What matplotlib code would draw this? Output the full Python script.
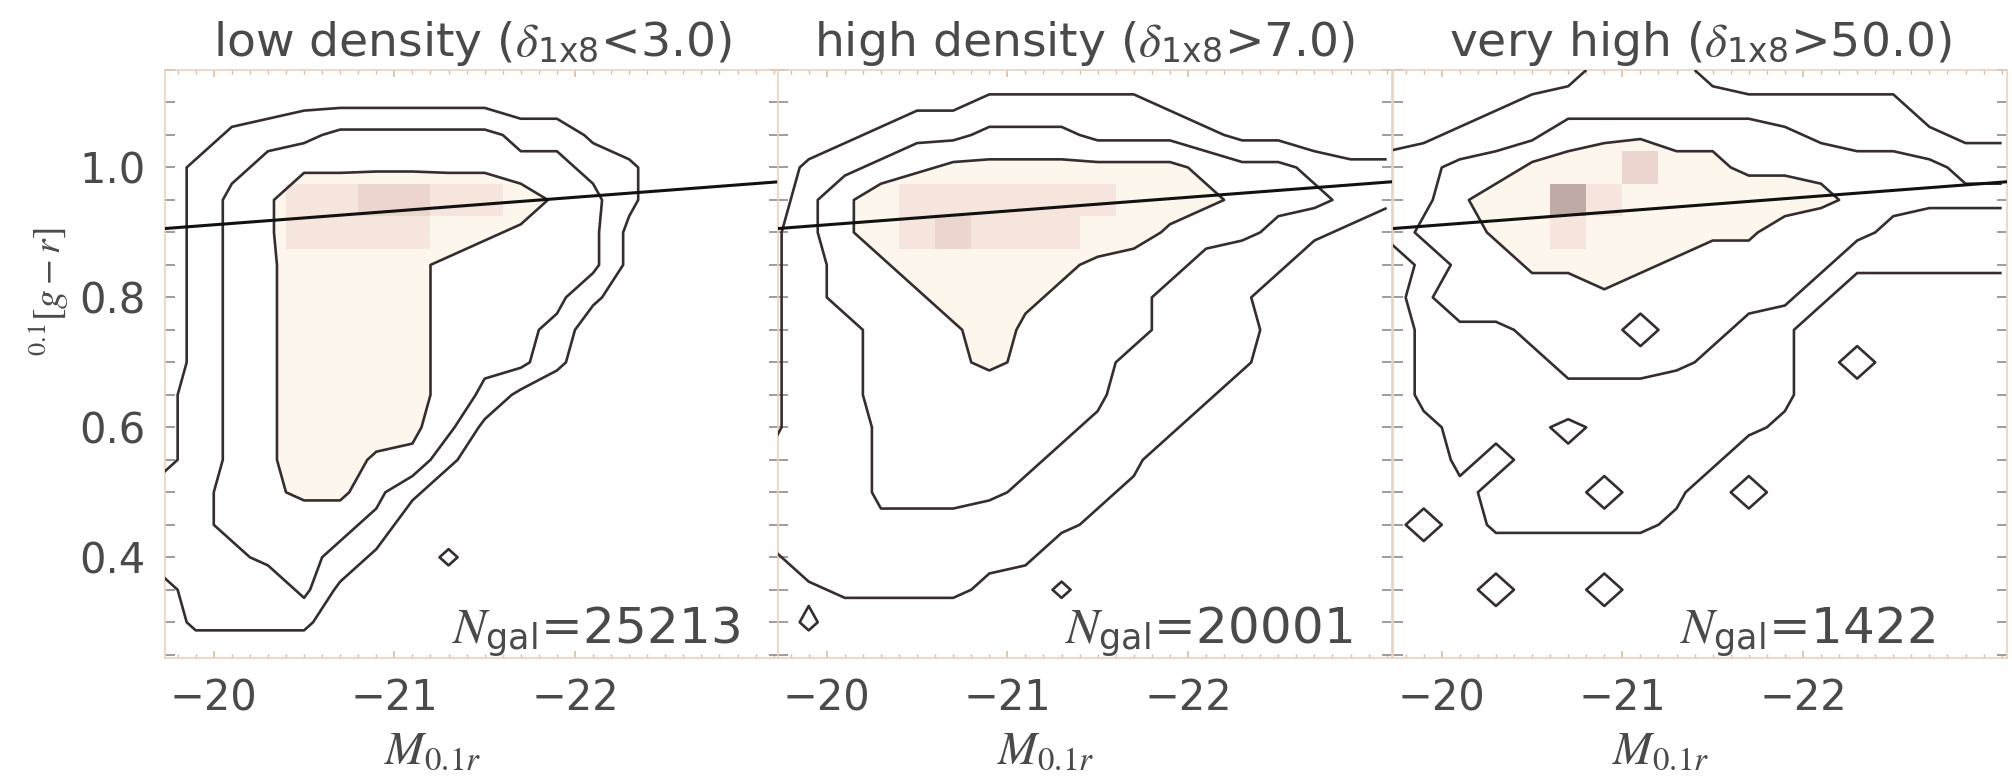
import matplotlib
matplotlib.use("Agg")
import matplotlib.pyplot as plt
import numpy as np
from matplotlib.colors import ListedColormap, BoundaryNorm
from matplotlib.ticker import MultipleLocator, FixedLocator

plt.rcParams['font.family'] = ['DejaVu Sans']
plt.rcParams['mathtext.fontset'] = 'stix'

# bin centres of the colour-magnitude grid
mag_bins = [-19.7, -19.9, -20.1, -20.3, -20.5, -20.7, -20.9, -21.1, -21.3,
            -21.5, -21.7, -21.9, -22.1, -22.3, -22.5, -22.7, -22.9, -23.1]
color_bins = [1.15, 1.10, 1.05, 1.00, 0.95, 0.90, 0.85, 0.80, 0.75, 0.70,
              0.65, 0.60, 0.55, 0.50, 0.45, 0.40, 0.35, 0.30, 0.25]

# density class per bin (top row = 1.15), hex digits
# 0-1 outside, 2-3 outer ring, 4-5 middle ring, 6+ inner, 8-a peak pixels
low_density = [
    "000000000000000000",
    "000011111100000000",
    "002334444433100000",
    "023455555544320000",
    "024588998875420000",
    "024588887654410000",
    "024577765444410000",
    "024577765444200000",
    "024577765443000000",
    "024577765442000000",
    "124577765310000000",
    "124577764100000000",
    "124577552000000000",
    "234566420000000000",
    "234444300000000000",
    "223443102000000000",
    "122241000000000000",
    "022220000000000000",
    "000000000000000000",
]
high_density = [
    "000000000000000000",
    "000011222221000000",
    "001233444333211000",
    "023456666666544322",
    "035788888877654432",
    "135789888775443210",
    "134577776544322000",
    "134457765443220000",
    "133445754443221000",
    "133445654433220000",
    "133444444422200000",
    "132444444322000000",
    "232444443220000000",
    "332444432210000000",
    "333333222100000000",
    "133222220000000000",
    "012222102000000000",
    "020000000000000000",
    "000000000000000000",
]
very_high = [
    "000001222100000000",
    "000122222222222000",
    "112335555554333211",
    "234466796655544433",
    "23577a877777654444",
    "244678777664443222",
    "024466765444422222",
    "035544544444200000",
    "023344434432000000",
    "022234444322030000",
    "022223332222000000",
    "012221222221000000",
    "002122222200000000",
    "001222122030000000",
    "030222221000000000",
    "000000000000000000",
    "000300300000000000",
    "000000000000000000",
    "000000000000000000",
]

titles = [r'low density ($\delta_{\mathregular{1x8}}$<3.0)',
          r'high density ($\delta_{\mathregular{1x8}}$>7.0)',
          r'very high ($\delta_{\mathregular{1x8}}$>50.0)']
n_gal = [25213, 20001, 1422]

# red sequence fit line (end points)
rs_mag = [-19.73, -23.13]
rs_color = [0.906, 0.978]

grids = [low_density, high_density, very_high]

fig = plt.figure(figsize=(20.12, 7.77), dpi=100)
lefts = [165 / 2012, 778 / 2012, 1393 / 2012]
line_col = '#362e2e'
frame_col = '#ebd2bb'
text_col = '#4a4a4a'

shade_cmap = ListedColormap(['#f6e5dd', '#ecd5cf', '#bfaaa6'])
shade_norm = BoundaryNorm([7.5, 8.5, 9.5, 10.5], 3)

for i, rows in enumerate(grids):
    ax = fig.add_axes([lefts[i], 0.1532, 0.3052, 0.7567])
    z = np.array([[int(ch, 16) for ch in r] for r in rows], dtype=float)

    ax.contourf(mag_bins, color_bins, z, levels=[5.5, 16], colors=['#fdf6ec'], zorder=1)
    peak = np.ma.masked_less(z, 8)
    ax.pcolormesh(mag_bins, color_bins, peak, cmap=shade_cmap, norm=shade_norm,
                  shading='nearest', zorder=2)
    ax.contour(mag_bins, color_bins, z, levels=[1.5, 3.5, 5.5],
               colors=line_col, linewidths=1.9, zorder=3)
    ax.plot(rs_mag, rs_color, color='#111111', lw=2.2, zorder=4)

    ax.set_xlim(-19.73, -23.13)
    ax.set_ylim(0.245, 1.15)

    for sp in ax.spines.values():
        sp.set_color(frame_col)
        sp.set_linewidth(1.2)

    ax.xaxis.set_major_locator(FixedLocator([-20, -21, -22]))
    ax.xaxis.set_minor_locator(MultipleLocator(0.1))
    ax.yaxis.set_major_locator(FixedLocator([0.4, 0.6, 0.8, 1.0]))
    ax.yaxis.set_minor_locator(MultipleLocator(0.05))
    ax.tick_params(axis='x', which='both', direction='in', top=True, bottom=True,
                   color='#d9bca2', labelsize=30, labelcolor=text_col, pad=14)
    ax.tick_params(axis='x', which='major', length=5, width=1.2)
    ax.tick_params(axis='x', which='minor', length=3, width=1)
    ax.tick_params(axis='y', which='both', direction='in', left=True, right=True,
                   length=7, width=1.2, color='#8c8c8c', labelsize=30,
                   labelcolor=text_col, pad=14)
    if i > 0:
        ax.tick_params(axis='y', labelleft=False)
    ax.set_xticklabels(['\u221220', '\u221221', '\u221222'])

    ax.set_title(titles[i], fontsize=34, color=text_col, pad=10)
    ax.set_xlabel(r'$M_{0.1r}$', fontsize=34, color=text_col)
    ax.xaxis.set_label_coords(0.435, -0.12)
    ax.text(0.465, 0.025, r'$N_{\mathregular{gal}}$=%d' % n_gal[i],
            transform=ax.transAxes, fontsize=36, color=text_col,
            ha='left', va='baseline', zorder=5)

fig.text(0.024, 0.625, r'$^{0.1}[g-r]$', rotation=90, fontsize=27,
         color=text_col, ha='center', va='center')

fig.savefig('out.png', dpi=100, facecolor='white')
